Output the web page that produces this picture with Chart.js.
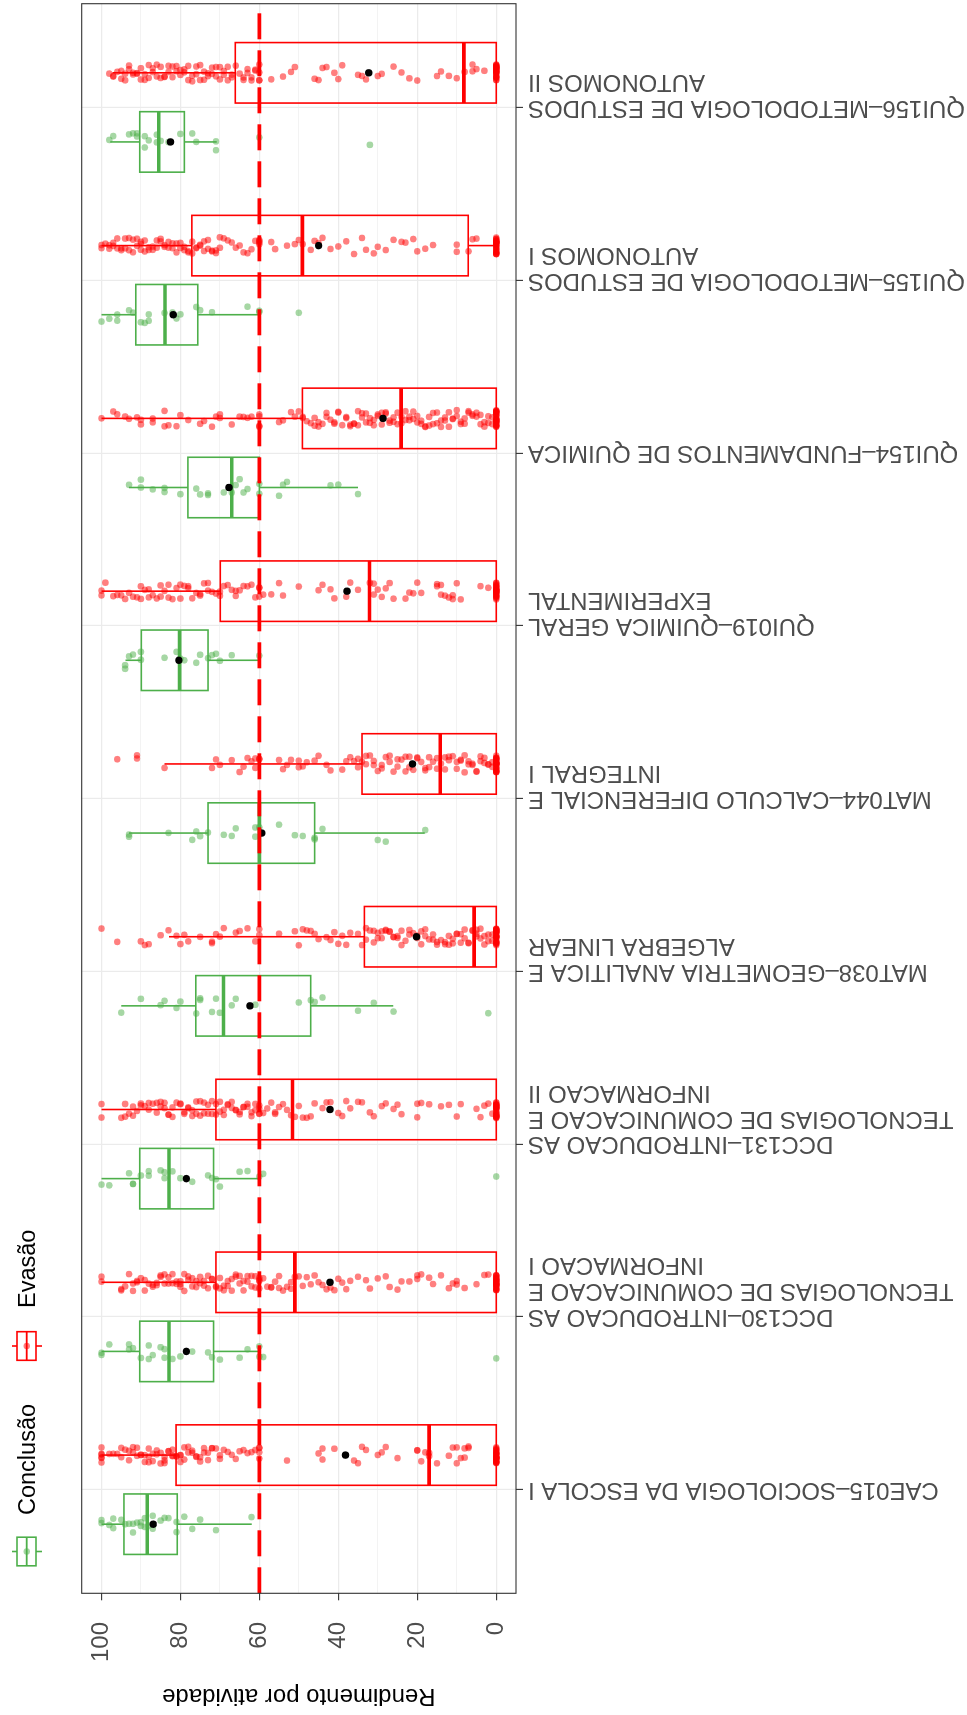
<!DOCTYPE html>
<html>
<head>
<meta charset="utf-8">
<script src="https://cdn.jsdelivr.net/npm/chart.js@4.4.1/dist/chart.umd.min.js"></script>
<style>
html,body{margin:0;padding:0;background:#ffffff;overflow:hidden;width:967px;height:1715px;}
#wrap{position:absolute;left:0;top:0;width:1715px;height:967px;transform-origin:0 0;transform:translateY(1715px) rotate(-90deg);background:#fff;}
canvas{display:block;}
</style>
</head>
<body>
<div id="wrap"><canvas id="c" width="1715" height="967"></canvas></div>
<script>
// ---------------- DATA ----------------
const categories = [
  ["CAE015–SOCIOLOGIA DA ESCOLA I"],
  ["DCC130–INTRODUCAO AS", "TECNOLOGIAS DE COMUNICACAO E", "INFORMACAO I"],
  ["DCC131–INTRODUCAO AS", "TECNOLOGIAS DE COMUNICACAO E", "INFORMACAO II"],
  ["MAT038–GEOMETRIA ANALITICA E", "ALGEBRA LINEAR"],
  ["MAT044–CALCULO DIFERENCIAL E", "INTEGRAL I"],
  ["QUI019–QUIMICA GERAL", "EXPERIMENTAL"],
  ["QUI154–FUNDAMENTOS DE QUIMICA"],
  ["QUI155–METODOLOGIA DE ESTUDOS", "AUTONOMOS I"],
  ["QUI156–METODOLOGIA DE ESTUDOS", "AUTONOMOS II"]
];
const seriesNames = ["Conclusão", "Evasão"];
const valueTicks = [0, 10, 20, 30, 40, 50, 60, 70, 80, 90, 100];
const cutoff = 60;

// Conclusão box statistics
const concLow  = [61.9, 60, 60, 26.1, 18.1, 60, 35.0, 60, 70.8];
const concQ1   = [80.8, 71.6, 71.6, 47.0, 46.0, 73.0, 60.0, 75.6, 79.0];
const concMed  = [88.4, 82.9, 82.9, 69.1, 60.0, 80.2, 67.0, 83.9, 85.5];
const concQ3   = [94.3, 90.3, 90.3, 76.1, 73.0, 89.9, 78.1, 91.3, 90.3];
const concHigh = [100, 100, 100, 95.0, 93.0, 93.9, 93.0, 100, 97.8];
const concMean = [86.9, 78.5, 78.5, 62.4, 59.4, 80.4, 67.7, 81.8, 82.5];

// Evasão box statistics
const evaLow  = [0, 0, 0, 0, 0, 0, 0, 0, 0];
const evaQ1   = [0, 0, 0, 0, 0, 0, 0, 7.1, 0];
const evaMed  = [17.0, 51.0, 51.6, 5.6, 14.2, 32.1, 24.1, 49.1, 8.2];
const evaQ3   = [81.1, 71.0, 71.0, 33.4, 34.0, 69.9, 49.1, 77.1, 66.1];
const evaHigh = [100, 100, 100, 82.9, 84.0, 100, 100, 100, 97.2];
const evaMean = [38.2, 42.1, 42.1, 20.2, 21.2, 37.8, 28.7, 45.0, 32.3];

// individual (jittered) observations
const concPoints = [
  [100,100,98,97,97,95,94,93,92,92,91,90,90,89,89,88,87,87,85,84,83,81,81,79,77,75,71,62],
  [100,100,98,93,93,92,90,88,88,87,85,84,84,82,80,77,73,72,70,65,63,60,60,59,0],
  [100,98,93,92,92,90,88,88,85,84,84,82,80,77,73,72,71,70,65,63,60,59,0],
  [95,90,85,84,81,80,76,75,75,72,71,70,67,66,61,50,47,46,44,35,31,26,2],
  [93,93,83,77,76,75,73,69,67,66,61,61,60,55,51,49,46,46,44,30,28,18],
  [94,94,93,92,90,90,84,81,80,79,76,75,73,72,71,70,67,60],
  [93,90,90,87,84,84,80,76,75,73,73,69,67,66,65,64,63,60,60,55,54,53,42,40,35],
  [100,98,96,96,93,92,90,89,88,88,84,82,81,80,76,75,72,63,60,60,50],
  [98,97,93,92,91,91,89,89,88,86,86,85,83,80,77,76,71,71,60,32]
];
const evaPoints = [
  [100,100,100,100,100,100,98,97,96,95,95,94,93,93,92,92,91,91,90,90,89,89,88,88,88,87,87,86,86,85,85,84,84,84,83,83,82,82,82,81,81,80,80,80,79,79,78,78,77,77,76,76,75,75,74,74,73,73,72,72,71,70,70,69,68,67,66,65,64,63,62,61,60,60,60,60,53,45,44,44,41,36,35,34,33,30,29,28,25,20,20,19,18,17,17,15,12,11,10,10,9,8,8,7,7,0,0,0,0,0,0,0,0,0,0,0,0,0,0,0,0,0,0,0,0,0,0,0,0,0,0,0,0,0,0],
  [100,100,95,95,94,93,92,92,91,91,90,89,89,88,87,87,86,86,85,85,84,84,83,83,82,82,81,81,80,80,80,79,79,78,78,77,77,76,76,75,75,74,74,73,73,72,72,71,71,70,70,69,69,68,68,67,67,66,66,65,65,64,64,63,63,62,62,61,61,60,60,60,60,59,58,57,57,56,55,55,54,53,52,52,51,50,49,48,47,46,45,44,43,42,41,40,39,38,37,35,33,32,30,28,27,25,24,22,20,20,19,17,16,14,12,11,10,10,8,5,3,2,0,0,0,0,0,0,0,0,0,0,0,0,0,0,0,0,0,0,0,0,0,0,0,0,0,0,0,0,0,0],
  [100,100,95,94,94,93,92,92,91,90,90,89,88,88,87,86,86,85,85,84,84,83,83,82,82,81,80,80,79,79,78,78,77,77,76,76,75,75,74,74,73,73,72,72,71,71,70,70,69,69,68,68,67,67,66,66,65,65,64,64,63,63,62,62,61,61,60,60,60,60,59,58,57,56,56,55,54,53,52,51,50,49,48,47,46,44,43,42,40,39,38,37,35,34,32,31,29,28,26,25,24,20,20,19,17,14,12,10,9,5,4,3,2,1,0,0,0,0,0,0,0,0,0,0,0,0,0,0,0,0,0,0,0,0,0,0,0,0,0,0,0,0,0,0],
  [100,96,90,89,88,85,83,81,80,79,78,75,72,72,71,70,69,66,65,63,61,60,60,55,51,50,49,48,47,46,45,43,42,41,40,39,38,37,35,34,33,33,32,31,31,30,30,29,29,28,28,27,27,26,26,25,25,24,24,23,22,22,21,20,20,19,19,18,18,17,16,16,15,15,14,13,13,12,12,11,11,10,10,9,9,8,8,7,7,6,6,5,5,5,4,4,3,3,2,2,1,1,0,0,0,0,0,0,0,0,0,0,0,0,0,0,0,0,0,0,0,0,0,0,0,0,0,0,0,0,0,0],
  [96,91,91,84,72,71,70,67,65,64,63,62,61,61,60,60,55,54,53,52,50,50,49,48,46,45,43,42,39,38,37,36,35,35,34,33,33,32,31,31,30,29,29,28,27,27,26,25,25,24,23,23,22,22,21,20,20,19,18,18,17,17,16,15,15,14,13,13,12,12,11,10,10,9,9,8,8,7,7,6,6,5,5,4,4,3,3,2,2,1,1,0,0,0,0,0,0,0,0,0,0,0,0,0,0,0,0,0,0,0,0,0,0,0,0,0,0,0,0,0,0],
  [100,100,99,97,96,95,94,93,92,91,90,90,89,88,88,87,86,85,85,84,83,83,82,81,80,80,79,78,78,77,76,75,75,74,73,73,72,71,70,70,69,68,67,66,66,65,64,63,62,61,60,60,60,59,57,55,54,50,45,44,42,41,38,37,35,32,31,31,30,29,28,27,26,23,22,21,20,19,15,15,14,14,13,12,11,11,10,9,4,2,0,0,0,0,0,0,0,0,0,0,0,0,0,0,0,0,0,0,0,0,0,0,0,0,0,0,0,0,0,0],
  [100,97,96,94,93,91,90,90,87,87,84,84,83,81,80,78,75,74,72,71,70,70,67,65,64,63,62,60,60,60,60,55,54,52,51,50,49,49,48,47,46,46,45,45,44,43,43,42,41,41,40,40,39,38,38,37,37,36,36,35,35,34,34,33,33,32,32,31,31,30,30,29,29,28,28,27,27,26,26,25,25,24,24,23,23,22,22,21,21,20,20,19,19,18,18,17,17,16,16,15,15,14,14,13,13,12,12,11,11,10,10,9,9,8,8,7,7,6,6,5,5,4,4,3,3,2,2,1,1,0,0,0,0,0,0,0,0,0,0,0,0,0,0,0,0,0,0,0,0,0,0,0,0,0,0,0,0,0,0],
  [100,100,99,98,98,97,97,96,96,95,95,94,94,93,93,92,92,91,91,90,90,90,89,89,88,88,87,87,86,86,85,85,84,84,83,83,82,82,81,81,80,80,79,79,78,78,77,77,76,76,75,75,74,74,73,73,72,72,71,71,70,70,69,68,67,66,65,64,63,62,61,60,60,60,60,57,56,53,51,50,49,47,46,45,44,42,40,38,36,34,33,31,30,28,26,24,23,21,20,18,16,10,10,7,6,5,0,0,0,0,0,0,0,0,0,0,0,0,0,0,0,0,0,0,0,0,0,0,0,0,0,0,0,0,0,0],
  [98,97,97,96,95,95,94,94,93,93,92,92,91,91,90,90,89,89,88,88,87,87,86,86,85,85,84,84,83,83,82,82,81,81,80,80,79,79,78,78,77,77,76,76,75,75,74,74,73,73,72,72,71,71,70,70,69,69,68,68,67,67,66,65,64,64,63,63,62,62,61,61,60,60,60,60,57,54,52,51,46,45,44,43,41,40,39,35,34,33,30,29,26,24,22,20,15,14,12,10,8,6,6,5,3,0,0,0,0,0,0,0,0,0,0,0,0,0,0,0,0,0,0,0,0,0,0,0,0,0,0,0,0,0,0,0]
];

// ---------------- STYLE ----------------
const GREEN = '#4DAF4A', RED = '#FF0000';
const GREEN_A = 'rgba(77,175,74,0.5)', RED_A = 'rgba(255,0,0,0.5)';
const DODGE = 0.2, HALF = 0.175, JIT = 0.05;
const FONT = '"Liberation Sans", Arial, Helvetica, sans-serif';
const LABEL_SIZE = 24, LABEL_LH = 1.08;

// deterministic horizontal spread of points inside each group (display only)
function jit(k, g) {
  const s = Math.sin((k + 1) * 12.9898 + (g + 1) * 78.233) * 43758.5453;
  return ((s - Math.floor(s)) - 0.5) * 2 * JIT;
}

const concData = [], evaData = [], meanData = [];
concPoints.forEach((arr, i) => arr.forEach((v, k) => concData.push({x: i + 1 - DODGE + jit(k, i * 2), y: v})));
evaPoints.forEach((arr, i) => arr.forEach((v, k) => evaData.push({x: i + 1 + DODGE + jit(k, i * 2 + 1), y: v})));
categories.forEach((c, i) => {
  meanData.push({x: i + 1 - DODGE, y: concMean[i]});
  meanData.push({x: i + 1 + DODGE, y: evaMean[i]});
});

const boxPlugin = {
  id: 'boxes',
  beforeDatasetsDraw(chart) {
    const {ctx, scales: {x, y}} = chart;
    ctx.save();
    ctx.beginPath();
    const a = chart.chartArea;
    ctx.rect(a.left, a.top, a.right - a.left, a.bottom - a.top);
    ctx.clip();
    const groups = [
      {lo: concLow, q1: concQ1, med: concMed, q3: concQ3, hi: concHigh, off: -DODGE, col: GREEN},
      {lo: evaLow, q1: evaQ1, med: evaMed, q3: evaQ3, hi: evaHigh, off: DODGE, col: RED}
    ];
    groups.forEach(g => {
      categories.forEach((c, i) => {
        const cx = i + 1 + g.off;
        const xc = x.getPixelForValue(cx);
        const x0 = x.getPixelForValue(cx - HALF), x1 = x.getPixelForValue(cx + HALF);
        const yq1 = y.getPixelForValue(g.q1[i]), yq3 = y.getPixelForValue(g.q3[i]);
        ctx.strokeStyle = g.col;
        ctx.lineWidth = 1.6;
        ctx.beginPath();
        ctx.moveTo(xc, yq3); ctx.lineTo(xc, y.getPixelForValue(g.hi[i]));
        ctx.moveTo(xc, yq1); ctx.lineTo(xc, y.getPixelForValue(g.lo[i]));
        ctx.stroke();
        ctx.strokeRect(x0, yq3, x1 - x0, yq1 - yq3);
        ctx.lineWidth = 3.6;
        ctx.beginPath();
        const ym = y.getPixelForValue(g.med[i]);
        ctx.moveTo(x0, ym); ctx.lineTo(x1, ym);
        ctx.stroke();
      });
    });
    ctx.restore();
  },
  afterDatasetsDraw(chart) {
    const {ctx, scales: {y}, chartArea: a} = chart;
    const yc = y.getPixelForValue(cutoff);
    ctx.save();
    ctx.strokeStyle = RED;
    ctx.lineWidth = 3.6;
    ctx.setLineDash([26, 11]);
    ctx.beginPath();
    ctx.moveTo(a.left, yc); ctx.lineTo(a.right, yc);
    ctx.stroke();
    ctx.restore();
  },
  afterDraw(chart) {
    const {ctx, chartArea: a} = chart;
    ctx.save();
    ctx.strokeStyle = '#333333';
    ctx.lineWidth = 1.1;
    ctx.strokeRect(a.left, a.top, a.right - a.left, a.bottom - a.top);
    // legend
    const keys = [
      {cx: 163.5, col: GREEN, fill: GREEN_A, text: seriesNames[0], tx: 200},
      {cx: 369, col: RED, fill: RED_A, text: seriesNames[1], tx: 407}
    ];
    const cy = 26.7;
    keys.forEach(k => {
      ctx.strokeStyle = k.col;
      ctx.lineWidth = 1.6;
      ctx.beginPath();
      ctx.moveTo(k.cx, 12); ctx.lineTo(k.cx, 17);
      ctx.moveTo(k.cx, 36); ctx.lineTo(k.cx, 42);
      ctx.stroke();
      ctx.strokeRect(k.cx - 14.3, 17, 28.6, 19);
      ctx.lineWidth = 1.8;
      ctx.beginPath();
      ctx.moveTo(k.cx - 14.3, cy); ctx.lineTo(k.cx + 14.3, cy);
      ctx.stroke();
      ctx.fillStyle = k.fill;
      ctx.beginPath();
      ctx.arc(k.cx, cy, 3.2, 0, Math.PI * 2);
      ctx.fill();
      ctx.fillStyle = '#000000';
      ctx.font = '23.5px ' + FONT;
      ctx.textAlign = 'left';
      ctx.textBaseline = 'alphabetic';
      ctx.fillText(k.text, k.tx, 35);
    });
    ctx.restore();
  }
};

Chart.defaults.font.family = FONT;

function catOffset(ctx) {
  const c = (ctx && typeof ctx.index === 'number') ? categories[ctx.index] : null;
  if (!c) return 0;
  return -((c.length - 1) * LABEL_SIZE * LABEL_LH) / 2;
}

new Chart(document.getElementById('c'), {
  type: 'scatter',
  data: {
    datasets: [
      {label: 'Média', data: meanData, backgroundColor: '#000000', borderWidth: 0, pointRadius: 3.7, pointHoverRadius: 3.7, order: 0},
      {label: seriesNames[1], data: evaData, backgroundColor: RED_A, borderWidth: 0, pointRadius: 3.3, pointHoverRadius: 3.3, order: 1},
      {label: seriesNames[0], data: concData, backgroundColor: GREEN_A, borderWidth: 0, pointRadius: 3.3, pointHoverRadius: 3.3, order: 2}
    ]
  },
  options: {
    responsive: false,
    animation: false,
    devicePixelRatio: 1,
    events: [],
    layout: {padding: {left: 0, right: 2, top: 81.7, bottom: 0}},
    plugins: {legend: {display: false}, tooltip: {enabled: false}},
    scales: {
      x: {
        type: 'linear',
        position: 'bottom',
        min: 0.4,
        max: categories.length + 0.6,
        afterBuildTicks: s => { s.ticks = categories.map((c, i) => ({value: i + 1})); },
        afterFit: s => { s.height = 967 - 516; },
        ticks: {
          autoSkip: false,
          minRotation: 90,
          maxRotation: 90,
          padding: 5,
          color: '#4D4D4D',
          font: {size: LABEL_SIZE, lineHeight: LABEL_LH},
          callback: (v) => categories[Math.round(v) - 1] || '',
          labelOffset: catOffset
        },
        grid: {color: '#EBEBEB', lineWidth: 1.2, tickColor: '#333333', tickLength: 7, tickWidth: 1.1},
        border: {display: false}
      },
      y: {
        type: 'linear',
        position: 'left',
        min: -5,
        max: 105,
        afterBuildTicks: s => { s.ticks = valueTicks.map(v => ({value: v})); },
        afterFit: s => { s.width = 121.7; },
        ticks: {
          padding: 21.7,
          color: '#4D4D4D',
          font: {size: 24, lineHeight: 1.2},
          callback: v => (v % 20 === 0 ? String(v) : '')
        },
        grid: {
          color: '#EBEBEB',
          lineWidth: ctx => (ctx.tick && ctx.tick.value % 20 === 0 ? 1.2 : 0.6),
          tickColor: ctx => (ctx.tick && ctx.tick.value % 20 === 0 ? '#333333' : 'rgba(0,0,0,0)'),
          tickLength: 7,
          tickWidth: 1.1
        },
        border: {display: false},
        title: {
          display: true,
          text: 'Rendimento por atividade',
          color: '#000000',
          font: {size: 24, lineHeight: 1.2},
          padding: {top: 4.6, bottom: 0}
        }
      }
    }
  },
  plugins: [boxPlugin]
});
</script>
</body>
</html>
